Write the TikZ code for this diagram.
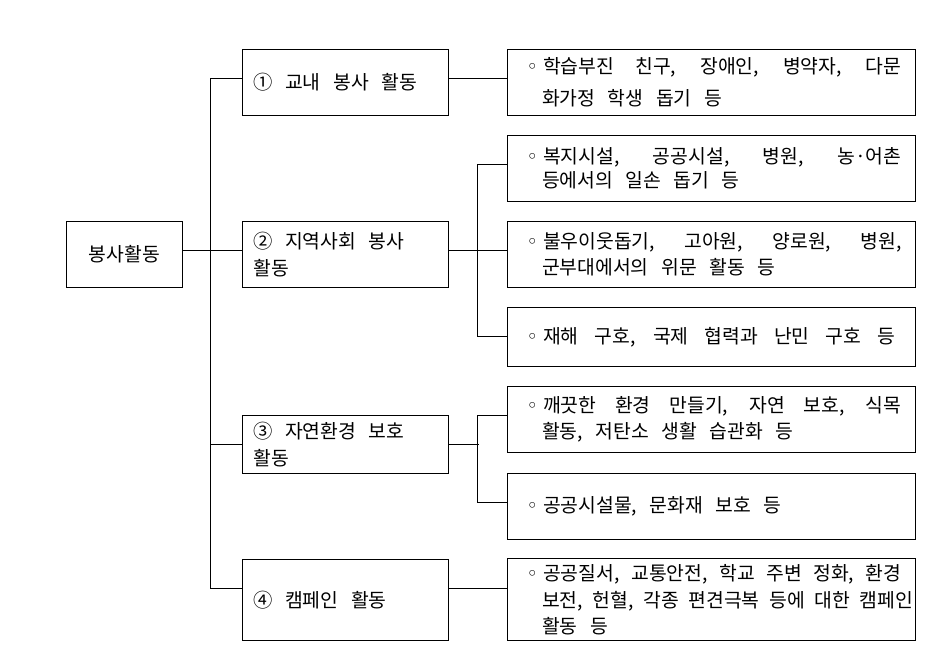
\documentclass[tikz,border=0pt]{standalone}
\usepackage{fontspec}
\setmainfont{Noto Sans CJK KR}
\newfontfamily\dotfont{DejaVu Sans}
\newcommand{\widespace}{\spaceskip=0.65em plus 0.2em minus 0.1em\relax}
\newcommand{\bul}{\makebox[0.43cm][c]{\dotfont ◦}}
\newcommand{\ind}{\hspace*{0.41cm}}
\newcommand{\spreadline}[2]{\makebox[#1][s]{\spaceskip=0.5em plus 1fil\relax#2}}
\newcommand{\fullline}[1]{\spreadline{7.17cm}{#1}}

\begin{document}
\begin{tikzpicture}[x=0.02cm,y=-0.02cm,
  box/.style={draw,line width=0.7pt,rectangle,font=\fontsize{11pt}{15pt}\selectfont,
    execute at begin node=\widespace},
  head/.style={box,text width=3.68cm,inner xsep=0.22cm,align=left},
  item/.style={box,text width=7.6cm,inner xsep=0.284cm,align=left},
  link/.style={line width=0.6pt},
  tap/.style={yshift=2.3pt},
  drop/.style={yshift=6.7pt}]

\useasboundingbox (0,0) rectangle (931,657);

% root node
\node[box,minimum width=2.32cm,minimum height=1.31cm] (service) at (124.3,254.5) {봉사활동};

% first level nodes
\node[head,minimum height=1.32cm] (school) at (345.3,82.3) {① 교내 봉사 활동};
\node[head,minimum height=1.31cm] (local) at (345.3,254.5) {② 지역사회 봉사\\활동};
\node[head,minimum height=1.15cm] (nature) at (345.3,444.5) {③ 자연환경 보호\\활동};
\node[head,minimum height=1.62cm] (campaign) at (345.3,599.8) {④ 캠페인 활동};

% school activity
\node[item,minimum height=1.32cm] (school work) at (711.5,82.3)
  {\bul\fullline{학습부진 친구, 장애인, 병약자, 다문}\\[3pt]\ind 화가정 학생 돕기 등};

% local community activity
\node[item,minimum height=1.32cm] (local welfare) at (711.5,168.3)
  {\bul\fullline{복지시설, 공공시설, 병원, 농·어촌}\\[-1.8pt]\ind 등에서의 일손 돕기 등};
\node[item,minimum height=1.31cm] (local comfort) at (711.5,254.5)
  {\bul\fullline{불우이웃돕기, 고아원, 양로원, 병원,}\\\ind 군부대에서의 위문 활동 등};
\node[item,minimum height=1.18cm] (local relief) at (711.5,336.8)
  {\bul\spreadline{7.04cm}{재해 구호, 국제 협력과 난민 구호 등}};

% nature activity
\node[item,minimum height=1.31cm] (nature clean) at (711.5,419.5)
  {\bul\fullline{깨끗한 환경 만들기, 자연 보호, 식목}\\\ind 활동, 저탄소 생활 습관화 등};
\node[item,minimum height=1.32cm] (nature heritage) at (711.5,506.3)
  {\bul 공공시설물, 문화재 보호 등};

% campaign activity
\node[item,minimum height=1.62cm] (campaign work) at (711.5,599.8)
  {\bul\fullline{공공질서, 교통안전, 학교 주변 정화, 환경}\\\ind\spreadline{7.2cm}{보전, 헌혈, 각종 편견극복 등에 대한 캠페인}\\\ind 활동 등};

% root to first level
\draw[link] ([tap]school.west) -- ++(-31,0) |- ([drop]campaign.west);
\draw[link] ([tap]service.east) -- ([tap]local.west);
\draw[link] (nature.west) -- ++(-31,0);

% first level to second level
\draw[link] ([tap]school.east) -- ([tap]school work.west);
\draw[link] ([tap]local.east) -- ([tap]local comfort.west);
\draw[link] ([tap]local welfare.west) -- ++(-29,0) |- (local relief.west);
\draw[link] (nature.east) -- ++(30,0);
\draw[link] ([tap]nature clean.west) -- ++(-29,0) |- ([tap]nature heritage.west);
\draw[link] ([drop]campaign.east) -- ([drop]campaign work.west);

\end{tikzpicture}
\end{document}
